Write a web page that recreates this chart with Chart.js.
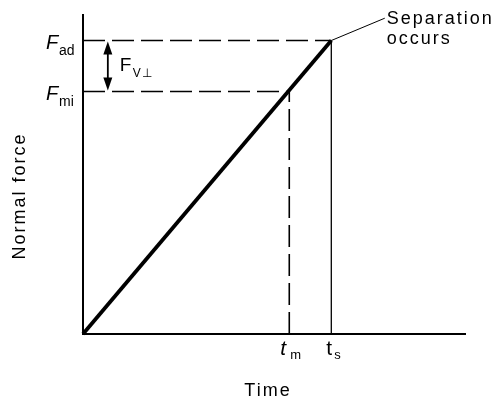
<!DOCTYPE html>
<html>
<head>
<meta charset="utf-8">
<script src="https://cdn.jsdelivr.net/npm/chart.js@4.4.1/dist/chart.umd.min.js"></script>
<style>
  html, body { margin: 0; padding: 0; background: #fff; }
  #wrap { width: 495px; height: 400px; }
</style>
</head>
<body>
<div id="wrap"><canvas id="c"></canvas></div>
<script>
// normal force vs time, force rises linearly until separation
const tMin = 5.4;      // t_m
const tSep = 6.5;      // t_s
const fMi = 7.6;       // F_mi
const fAd = 9.2;       // F_ad
const arrowX = 0.65;   // where the F_V⊥ arrow sits
const leaderEnd = [7.9, 9.9];

const xLabels = ['t|m', 't|s'];
const yLabels = ['F|ad', 'F|mi'];

const font = '"Liberation Sans", Arial, sans-serif';

// double arrow + all the text bits
const extras = {
    id: 'extras',
    afterDatasetsDraw(chart) {
        const ctx = chart.ctx;
        const xs = chart.scales.x, ys = chart.scales.y;
        const area = chart.chartArea;
        ctx.save();
        ctx.fillStyle = '#000';
        ctx.strokeStyle = '#000';

        // arrow between F_mi and F_ad
        const ax = xs.getPixelForValue(arrowX);
        const yTop = ys.getPixelForValue(fAd);
        const yBot = ys.getPixelForValue(fMi);
        ctx.lineWidth = 1.8;
        ctx.beginPath();
        ctx.moveTo(ax, yTop + 10);
        ctx.lineTo(ax, yBot - 10);
        ctx.stroke();
        ctx.beginPath();
        ctx.moveTo(ax, yTop + 1);
        ctx.lineTo(ax - 4.5, yTop + 14);
        ctx.lineTo(ax + 4.5, yTop + 14);
        ctx.closePath();
        ctx.fill();
        ctx.beginPath();
        ctx.moveTo(ax, yBot - 1);
        ctx.lineTo(ax - 4.5, yBot - 14);
        ctx.lineTo(ax + 4.5, yBot - 14);
        ctx.closePath();
        ctx.fill();

        ctx.textBaseline = 'alphabetic';
        ctx.textAlign = 'left';
        ctx.letterSpacing = '0px';

        // F_V⊥ label
        ctx.font = '19px ' + font;
        ctx.fillText('F', ax + 12, (yTop + yBot) / 2 + 5);
        ctx.font = '12px ' + font;
        ctx.letterSpacing = '1px';
        ctx.fillText('V⊥', ax + 25, (yTop + yBot) / 2 + 11);
        ctx.letterSpacing = '0px';

        // y labels
        [fAd, fMi].forEach((v, i) => {
            const [main, sub] = yLabels[i].split('|');
            const py = ys.getPixelForValue(v);
            ctx.font = 'italic 20px ' + font;
            ctx.fillText(main, area.left - 37, py + 8);
            ctx.font = '14px ' + font;
            ctx.fillText(sub, area.left - 24, py + 14);
        });

        // x labels
        [tMin, tSep].forEach((v, i) => {
            const [main, sub] = xLabels[i].split('|');
            const px = xs.getPixelForValue(v);
            ctx.font = (i === 0 ? 'italic ' : '') + '21px ' + font;
            ctx.fillText(main, px - (i === 0 ? 9 : 5), area.bottom + 21);
            ctx.font = '13px ' + font;
            ctx.fillText(sub, px + (i === 0 ? 1 : 3), area.bottom + 25);
        });

        // axis titles
        ctx.font = '18px ' + font;
        ctx.letterSpacing = '2px';
        ctx.textAlign = 'center';
        ctx.fillText('Time', (area.left + area.right) / 2 - 6, 396);
        ctx.save();
        ctx.translate(25, 196);
        ctx.rotate(-Math.PI / 2);
        ctx.fillText('Normal force', 0, 0);
        ctx.restore();

        // separation note
        ctx.textAlign = 'left';
        ctx.font = '18px ' + font;
        ctx.letterSpacing = '2px';
        const lx = xs.getPixelForValue(leaderEnd[0]);
        const ly = ys.getPixelForValue(leaderEnd[1]);
        ctx.fillText('Separation', lx + 2, ly + 6);
        ctx.fillText('occurs', lx + 2, ly + 26);
        ctx.restore();
    }
};

const dashed = [22, 7];

new Chart(document.getElementById('c'), {
    type: 'scatter',
    data: {
        datasets: [
            { data: [{x: 0, y: 0}, {x: tSep, y: fAd}], borderWidth: 3.8 },
            { data: [{x: 0, y: fAd}, {x: tSep, y: fAd}], borderWidth: 1.6, borderDash: dashed },
            { data: [{x: 0, y: fMi}, {x: tMin, y: fMi}], borderWidth: 1.6, borderDash: dashed },
            { data: [{x: tMin, y: 0}, {x: tMin, y: fMi}], borderWidth: 1.6, borderDash: dashed },
            { data: [{x: tSep, y: 0}, {x: tSep, y: fAd}], borderWidth: 1.3 },
            { data: [{x: tSep, y: fAd}, {x: leaderEnd[0], y: leaderEnd[1]}], borderWidth: 1 }
        ].map(d => Object.assign({
            showLine: true,
            borderColor: '#000',
            pointRadius: 0,
            pointHoverRadius: 0,
            fill: false,
            clip: false
        }, d))
    },
    options: {
        responsive: true,
        maintainAspectRatio: false,
        animation: false,
        events: [],
        layout: { padding: { left: 83, right: 30, top: 15, bottom: 66 } },
        plugins: { legend: { display: false }, tooltip: { enabled: false } },
        scales: {
            x: {
                type: 'linear', min: 0, max: 10,
                grid: { display: false, drawTicks: false },
                ticks: { display: false },
                border: { display: true, color: '#000', width: 2 }
            },
            y: {
                type: 'linear', min: 0, max: 10,
                grid: { display: false, drawTicks: false },
                ticks: { display: false },
                border: { display: true, color: '#000', width: 2 }
            }
        }
    },
    plugins: [extras]
});
</script>
</body>
</html>
